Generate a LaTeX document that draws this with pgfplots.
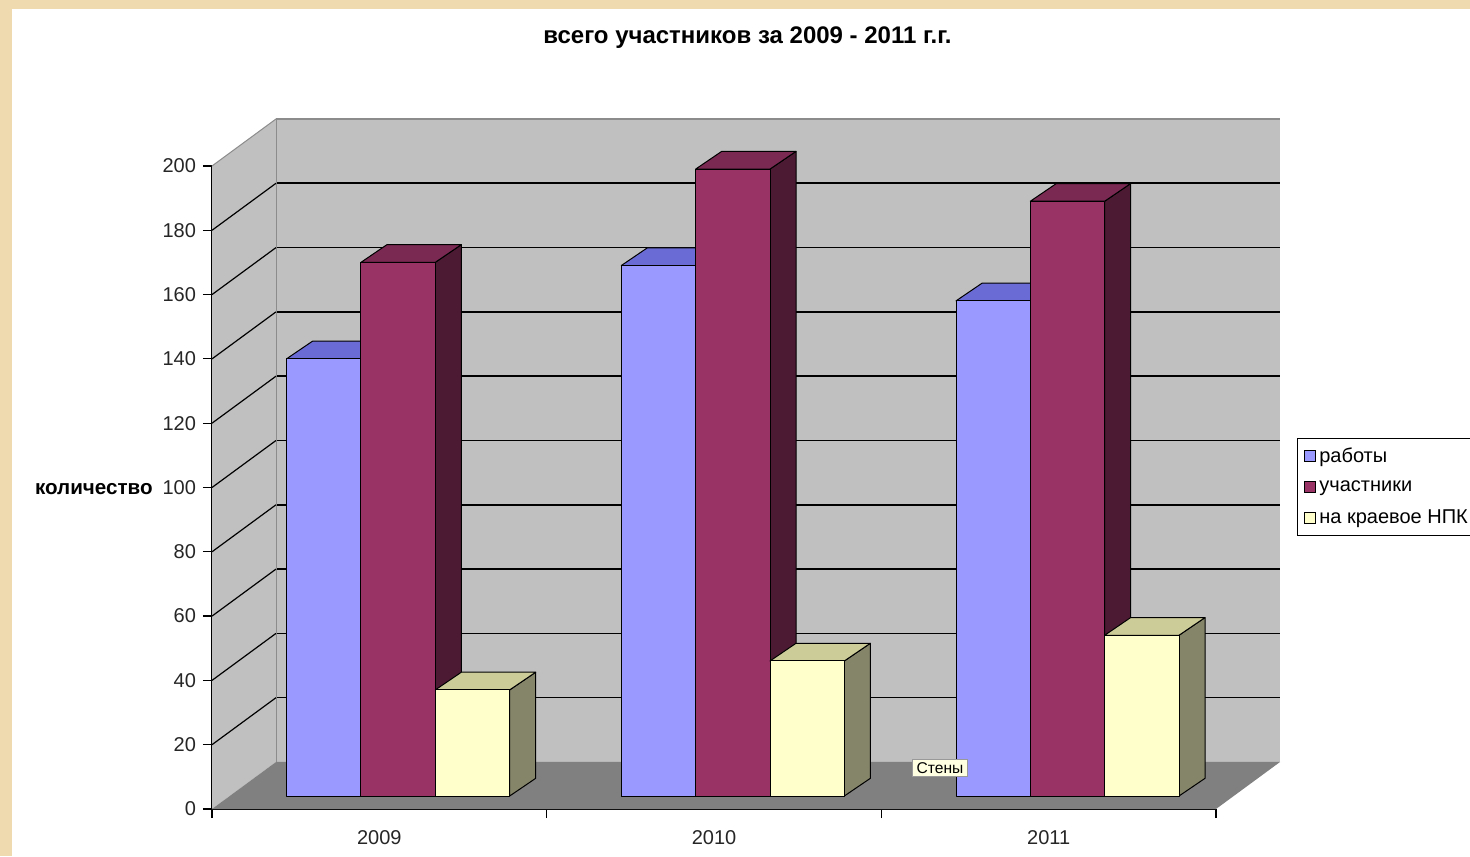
\documentclass[border=0pt]{standalone}
\usepackage{pgfplots}
\pgfplotsset{compat=1.18}
\usepackage{pgfplotstable}
\usepackage{fontspec}
\setmainfont{Liberation Sans}

\definecolor{rabF}{HTML}{9999FF}
\definecolor{rabT}{HTML}{6B6BD6}
\definecolor{rabS}{HTML}{4D4D80}
\definecolor{uchF}{HTML}{993366}
\definecolor{uchT}{HTML}{7A2952}
\definecolor{uchS}{HTML}{4D1A33}
\definecolor{npkF}{HTML}{FFFFCC}
\definecolor{npkT}{HTML}{CCCC99}
\definecolor{npkS}{HTML}{85856A}
\definecolor{wallc}{HTML}{C0C0C0}
\definecolor{floorc}{HTML}{808080}
\definecolor{beige}{HTML}{EFD9AF}
\definecolor{tipc}{HTML}{FFFFE1}

\pgfplotstableread{
cat rab uch npk
0 136 166 33
1 165 195 42
2 154 185 50
}\datatable

\begin{document}
\begin{tikzpicture}
\useasboundingbox (-106pt,-23.5pt) rectangle (629pt,404.5pt);
\clip (-106pt,-23.5pt) rectangle (629pt,404.5pt);
\fill[beige] (-106pt,-23.5pt) rectangle (629pt,404.5pt);
\fill[white] (-100pt,-23.5pt) rectangle (629pt,400pt);
\begin{axis}[
  scale only axis, width=502pt, height=321.5pt,
  xmin=-0.5, xmax=2.5, ymin=0, ymax=200,
  clip=false,
  axis x line*=bottom, axis y line*=left,
  axis line style={black, line width=0.7pt, -},
  ytick={0,20,...,200},
  xtick={-0.5,0.5,1.5,2.5}, xticklabels={},
  extra x ticks={0,1,2}, extra x tick labels={2009,2010,2011},
  extra x tick style={major tick length=0pt, xticklabel style={yshift=-7pt}},
  tick align=outside, major tick length=4.5pt,
  tick style={black, line width=0.6pt},
  /pgf/number format/assume math mode=true,
  tick label style={font=\fontsize{10}{12}\selectfont, text=black!85},
  legend image code/.code={\draw[#1,draw=black,line width=0.4pt] (0pt,-2.75pt) rectangle (5.5pt,2.75pt);},
  legend style={at={(1.0807,0.577)}, anchor=north west, draw=black, line width=0.5pt,
    fill=white, font=\fontsize{10}{12}\selectfont, row sep=3.6pt,
    inner xsep=3pt, inner ysep=2.5pt},
  legend cell align=left,
]
% walls and floor
\addplot[forget plot, fill=wallc, draw=none] coordinates {(-0.5,0) (-0.5,200) (-0.3088,214.62) (-0.3088,14.62)} -- cycle;
\addplot[forget plot, fill=wallc, draw=none] coordinates {(-0.3088,14.62) (2.6912,14.62) (2.6912,214.62) (-0.3088,214.62)} -- cycle;
\addplot[forget plot, fill=floorc, draw=none] coordinates {(-0.5,0) (2.5,0) (2.6912,14.62) (-0.3088,14.62)} -- cycle;
% gridlines on the back wall
\addplot[forget plot, black, line width=0.8pt] coordinates {(-0.3088,34.62) (2.6912,34.62)};
\addplot[forget plot, black, line width=0.8pt] coordinates {(-0.3088,54.62) (2.6912,54.62)};
\addplot[forget plot, black, line width=0.8pt] coordinates {(-0.3088,74.62) (2.6912,74.62)};
\addplot[forget plot, black, line width=0.8pt] coordinates {(-0.3088,94.62) (2.6912,94.62)};
\addplot[forget plot, black, line width=0.8pt] coordinates {(-0.3088,114.62) (2.6912,114.62)};
\addplot[forget plot, black, line width=0.8pt] coordinates {(-0.3088,134.62) (2.6912,134.62)};
\addplot[forget plot, black, line width=0.8pt] coordinates {(-0.3088,154.62) (2.6912,154.62)};
\addplot[forget plot, black, line width=0.8pt] coordinates {(-0.3088,174.62) (2.6912,174.62)};
\addplot[forget plot, black, line width=0.8pt] coordinates {(-0.3088,194.62) (2.6912,194.62)};
\addplot[forget plot, black!45, line width=0.6pt] coordinates {(-0.3088,214.62) (2.6912,214.62)};
\addplot[forget plot, black!45, line width=0.4pt] coordinates {(-0.3088,14.62) (-0.3088,214.62)};
% gridlines on the side wall
\addplot[forget plot, black, line width=0.6pt] coordinates {(-0.5,20) (-0.3088,34.62)};
\addplot[forget plot, black, line width=0.6pt] coordinates {(-0.5,40) (-0.3088,54.62)};
\addplot[forget plot, black, line width=0.6pt] coordinates {(-0.5,60) (-0.3088,74.62)};
\addplot[forget plot, black, line width=0.6pt] coordinates {(-0.5,80) (-0.3088,94.62)};
\addplot[forget plot, black, line width=0.6pt] coordinates {(-0.5,100) (-0.3088,114.62)};
\addplot[forget plot, black, line width=0.6pt] coordinates {(-0.5,120) (-0.3088,134.62)};
\addplot[forget plot, black, line width=0.6pt] coordinates {(-0.5,140) (-0.3088,154.62)};
\addplot[forget plot, black, line width=0.6pt] coordinates {(-0.5,160) (-0.3088,174.62)};
\addplot[forget plot, black, line width=0.6pt] coordinates {(-0.5,180) (-0.3088,194.62)};
\addplot[forget plot, black!45, line width=0.5pt] coordinates {(-0.5,200) (-0.3088,214.62)};
% bars (front, top and side faces) from the data table
\foreach \i in {0,1,2}{
  \foreach \j/\sname in {0/rab,1/uch,2/npk}{
    \pgfplotstablegetelem{\i}{\sname}\of\datatable
    \pgfmathsetmacro\xa{\i-0.2769+0.2221*\j}
    \pgfmathsetmacro\xb{\xa+0.2221}
    \pgfmathsetmacro\xc{\xa+0.0777}
    \pgfmathsetmacro\xd{\xb+0.0777}
    \pgfmathsetmacro\yt{\pgfplotsretval+4.04}
    \pgfmathsetmacro\ytt{\yt+5.5}
    \edef\cmd{%
      \noexpand\addplot[forget plot, fill=\sname S, draw=black, line width=0.5pt, line join=round]
        coordinates {(\xb,4.04) (\xd,9.54) (\xd,\ytt) (\xb,\yt)} -- cycle;
      \noexpand\addplot[forget plot, fill=\sname T, draw=black, line width=0.5pt, line join=round]
        coordinates {(\xa,\yt) (\xb,\yt) (\xd,\ytt) (\xc,\ytt)} -- cycle;
      \noexpand\addplot[forget plot, fill=\sname F, draw=black, line width=0.5pt, line join=round]
        coordinates {(\xa,4.04) (\xb,4.04) (\xb,\yt) (\xa,\yt)} -- cycle;
    }\cmd
  }
}
\addlegendimage{fill=rabF}\addlegendentry{работы}
\addlegendimage{fill=uchF}\addlegendentry{участники}
\addlegendimage{fill=npkF}\addlegendentry{на краевое НПК}
\end{axis}
% texts placed in picture coordinates (1 px of the reference = 0.5pt)
\node[anchor=base, font=\bfseries\fontsize{12}{14}\selectfont] at (267.75pt,382.5pt) {всего участников за 2009 - 2011 г.г.};
\node[anchor=base east, inner sep=0pt, font=\bfseries\fontsize{10.3}{12}\selectfont] at (-29.5pt,157pt) {количество};
\node[fill=tipc, draw=black!40, line width=0.3pt, inner xsep=2pt, inner ysep=1.5pt, font=\fontsize{7.8}{9}\selectfont] at (364pt,20.5pt) {Стены};
\end{tikzpicture}
\end{document}
